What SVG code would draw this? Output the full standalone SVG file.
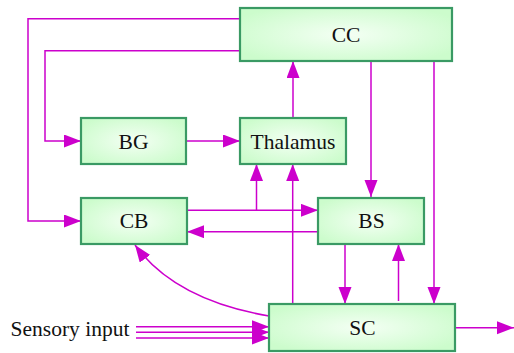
<svg xmlns="http://www.w3.org/2000/svg" width="514" height="353" viewBox="0 0 514 353">
<defs>
<radialGradient id="g" cx="0.5" cy="0.5" r="0.6">
<stop offset="0" stop-color="#f4fff4"/>
<stop offset="1" stop-color="#ccfccc"/>
</radialGradient>
<marker id="a" markerUnits="userSpaceOnUse" markerWidth="18" markerHeight="14" refX="17" refY="6.5" orient="auto">
<path d="M0,0 L17,6.5 L0,13 Z" fill="#cc00cc"/>
</marker>
<style>
.n{fill:url(#g);stroke:#3a9a64;stroke-width:2.2}
.t{font-size:21.5px;fill:#111;text-anchor:middle}
.c path{fill:none;stroke:#cc00cc;stroke-width:1.5}
</style>
</defs>
<rect width="514" height="353" fill="#fff"/>
<g class="c">
<path d="M240,18.7 H28 V221 H81" marker-end="url(#a)"/>
<path d="M240,50.7 H45 V141 H81" marker-end="url(#a)"/>
<path d="M187,141 H240" marker-end="url(#a)"/>
<path d="M293,118 V61" marker-end="url(#a)"/>
<path d="M371,61 V197" marker-end="url(#a)"/>
<path d="M434,61 V304" marker-end="url(#a)"/>
<path d="M187,210.3 H318" marker-end="url(#a)"/>
<path d="M256.5,210.3 V164" marker-end="url(#a)"/>
<path d="M318,231.7 H187" marker-end="url(#a)"/>
<path d="M292.7,304 V164" marker-end="url(#a)"/>
<path d="M345,244 V304" marker-end="url(#a)"/>
<path d="M398.5,301 V244" marker-end="url(#a)"/>
<path d="M455,327.7 H514" marker-end="url(#a)"/>
<path d="M269,316 Q175,300 135,245" marker-end="url(#a)"/>
<path d="M136,326.7 H269" marker-end="url(#a)"/>
<path d="M136,332.3 H269" marker-end="url(#a)"/>
<path d="M136,338 H269" marker-end="url(#a)"/>
</g>
<g font-family="Liberation Serif, Times New Roman, serif">
<g id="CC"><rect class="n" x="240" y="8" width="212" height="53"/><text class="t" x="346" y="41.5">CC</text></g>
<g id="BG"><rect class="n" x="81" y="118" width="105" height="46"/><text class="t" x="133.5" y="148.5">BG</text></g>
<g id="Thalamus"><rect class="n" x="240" y="118" width="106" height="46"/><text class="t" x="293" y="148.5">Thalamus</text></g>
<g id="CB"><rect class="n" x="81" y="198" width="106" height="46"/><text class="t" x="134" y="228">CB</text></g>
<g id="BS"><rect class="n" x="318" y="198" width="106" height="46"/><text class="t" x="371.5" y="228">BS</text></g>
<g id="SC"><rect class="n" x="269" y="304" width="186" height="47"/><text class="t" x="362.5" y="335">SC</text></g>
<text class="t" x="70" y="335.5">Sensory input</text>
</g>
</svg>
